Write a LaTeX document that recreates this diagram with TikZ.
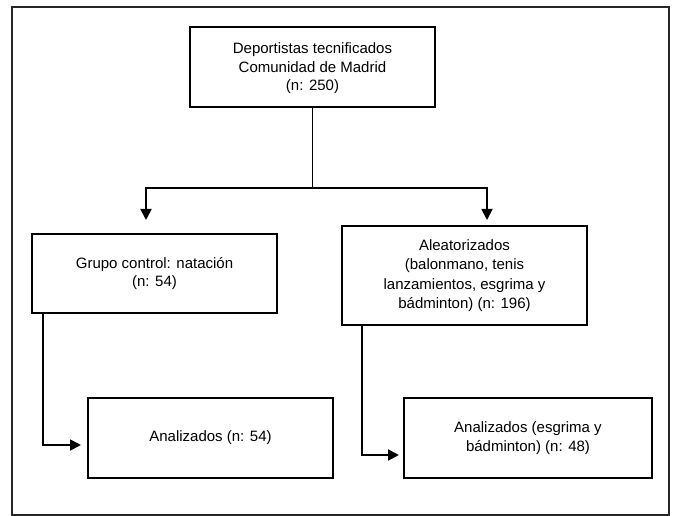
\documentclass[tikz,border=0pt]{standalone}
\usepackage{fontspec}
\setmainfont{Liberation Sans}
\usetikzlibrary{arrows.meta}
\tikzset{caja/.style={draw,line width=2pt,align=center,inner sep=0pt,minimum width=245,font=\fontsize{15}{18.5}\selectfont},
flecha/.style={line width=1.8pt,-{Triangle[length=11pt,width=11pt]}},linea/.style={line width=1.8pt}}
\begin{document}
\begin{tikzpicture}[x=1pt,y=-1pt]
\useasboundingbox (0,0) rectangle (673,516);
\draw[line width=2.4pt,black!85] (12,7) rectangle (669,515);
% cajas
\node[caja,minimum height=80,text depth=-6pt] (total) at (312.5,67) {Deportistas tecnificados\\Comunidad de Madrid\\(n: 250)};
\node[caja,minimum height=79] (control) at (154.5,273.5) {Grupo control: natación\\(n: 54)};
\node[caja,minimum height=99,font=\fontsize{15}{19.5}\selectfont] (aleat) at (464.5,275.5) {Aleatorizados\\(balonmano, tenis\\lanzamientos, esgrima y\\bádminton) (n: 196)};
\node[caja,minimum height=80] (anal1) at (210.5,438) {Analizados (n: 54)};
\node[caja,minimum height=80,minimum width=248] (anal2) at (528,438) {Analizados (esgrima y\\bádminton) (n: 48)};
% flechas
\coordinate (fork) at (312.5,188);\coordinate (tipL) at (146,220);\coordinate (tipR) at (487,220);
\draw[linea] (total.south) -- (fork);
\draw[flecha] (fork) -| (tipL);\draw[flecha] (fork) -| (tipR);
\draw[flecha] ([xshift=12pt]control.south west) |- ([shift={(-6pt,-7pt)}]anal1.west);
\draw[flecha] ([xshift=21pt]aleat.south west) |- ([shift={(-4pt,-17pt)}]anal2.west);
\end{tikzpicture}
\end{document}
